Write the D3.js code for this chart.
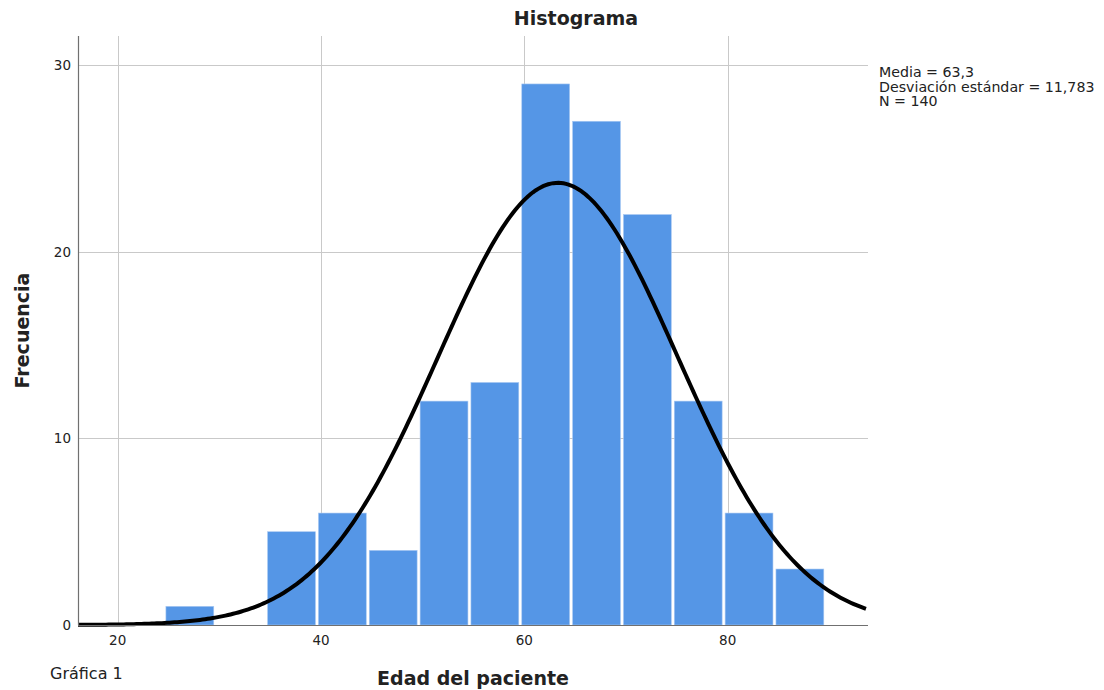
<!DOCTYPE html>
<html>
<head>
<meta charset="utf-8">
<script src="https://cdn.jsdelivr.net/npm/d3@7"></script>
<style>
    body { margin: 0; background: #fff; }
    svg { display: block; }
    text { font-family: "DejaVu Sans", sans-serif; fill: #222; }
</style>
</head>
<body>
<script>
// Histogram bins (edad del paciente) and counts
const binStarts = [ 24.6, 29.6, 34.6, 39.6, 44.6, 49.6, 54.6, 59.6, 64.6, 69.6, 74.6, 79.6, 84.6 ];
const binWidth = 5;
const counts = [ 1, 0, 5, 6, 4, 12, 13, 29, 27, 22, 12, 6, 3 ];

// Stats shown in the legend
const stats = { mean: 63.3, sd: 11.783, n: 140 };
const legendLines = [ "Media = 63,3", "Desviación estándar = 11,783", "N = 140" ];

const xTicks = [ 20, 40, 60, 80 ];
const yTicks = [ 0, 10, 20, 30 ];

const W = 1104, H = 690;
const plot = { left: 78, right: 868, top: 36, bottom: 625 };

const svg = d3.select("body").append("svg")
    .attr("width", W)
    .attr("height", H);

const x = d3.scaleLinear().domain([ 16.1, 93.8 ]).range([ plot.left, plot.right ]);
const y = d3.scaleLinear().domain([ 0, 31.57 ]).range([ plot.bottom, plot.top ]);

// Gridlines
const grid = svg.append("g").attr("stroke", "#c9c9c9").attr("stroke-width", 1);
xTicks.forEach(t => {
    grid.append("line")
        .attr("x1", Math.round(x(t)) + 0.5).attr("x2", Math.round(x(t)) + 0.5)
        .attr("y1", plot.top).attr("y2", plot.bottom);
});
yTicks.filter(t => t > 0).forEach(t => {
    grid.append("line")
        .attr("x1", plot.left).attr("x2", plot.right)
        .attr("y1", Math.round(y(t)) + 0.5).attr("y2", Math.round(y(t)) + 0.5);
});

// Bars
svg.append("g").selectAll("rect")
    .data(binStarts.map((s, i) => ({ x0: s, x1: s + binWidth, c: counts[ i ] })).filter(d => d.c > 0))
    .enter()
    .append("rect")
    .attr("x", d => x(d.x0) + 1.5)
    .attr("width", d => x(d.x1) - x(d.x0) - 3)
    .attr("y", d => y(d.c))
    .attr("height", d => y(0) - y(d.c))
    .attr("fill", "#5596e6")
    .attr("stroke", "#a8c8f2")
    .attr("stroke-width", 0.6);

// Normal curve scaled to the histogram
const pdf = v => Math.exp(-0.5 * ((v - stats.mean) / stats.sd) ** 2) / (stats.sd * Math.sqrt(2 * Math.PI));
const curveX = d3.range(x.domain()[ 0 ], x.domain()[ 1 ] + 0.01, 0.25);
svg.append("path")
    .datum(curveX)
    .attr("fill", "none")
    .attr("stroke", "#000")
    .attr("stroke-width", 4)
    .attr("d", d3.line().x(v => x(v)).y(v => y(stats.n * binWidth * pdf(v))));

// Axes
const axisG = svg.append("g").attr("stroke", "#707070").attr("stroke-width", 1.2);
axisG.append("line")
    .attr("x1", plot.left + 0.5).attr("x2", plot.left + 0.5)
    .attr("y1", plot.top).attr("y2", plot.bottom);
axisG.append("line")
    .attr("x1", plot.left).attr("x2", plot.right)
    .attr("y1", plot.bottom + 0.5).attr("y2", plot.bottom + 0.5);

// Tick labels
yTicks.forEach(t => {
    svg.append("text")
        .attr("x", plot.left - 7)
        .attr("y", y(t) + 5)
        .attr("text-anchor", "end")
        .attr("font-size", 13.5)
        .text(t);
});
xTicks.forEach(t => {
    svg.append("text")
        .attr("x", x(t))
        .attr("y", 645)
        .attr("text-anchor", "middle")
        .attr("font-size", 13.5)
        .text(t);
});

// Titles
svg.append("text")
    .attr("x", 576).attr("y", 25)
    .attr("text-anchor", "middle")
    .attr("font-size", 19).attr("font-weight", "bold")
    .text("Histograma");

svg.append("text")
    .attr("x", (plot.left + plot.right) / 2).attr("y", 685)
    .attr("text-anchor", "middle")
    .attr("font-size", 19).attr("font-weight", "bold")
    .text("Edad del paciente");

svg.append("text")
    .attr("transform", `translate(29, ${(plot.top + plot.bottom) / 2}) rotate(-90)`)
    .attr("text-anchor", "middle")
    .attr("font-size", 19).attr("font-weight", "bold")
    .text("Frecuencia");

svg.append("text")
    .attr("x", 50).attr("y", 679)
    .attr("font-size", 16)
    .text("Gráfica 1");

// Legend
legendLines.forEach((line, i) => {
    svg.append("text")
        .attr("x", 879)
        .attr("y", 77 + i * 14.7)
        .attr("font-size", 14.2)
        .text(line);
});
</script>
</body>
</html>
